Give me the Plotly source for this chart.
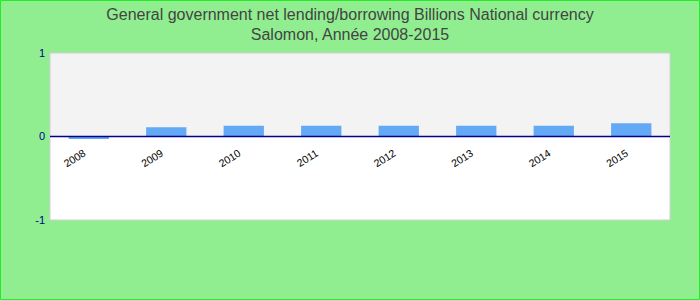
import plotly.graph_objects as go

years = ["2008", "2009", "2010", "2011", "2012", "2013", "2014", "2015"]
values = [-0.03, 0.11, 0.13, 0.13, 0.13, 0.13, 0.13, 0.16]
y_ticks = [-1, 0, 1]
y_tick_text = ["-1", "0", "1"]

W, H = 700, 300
ml, mr, mt, mb = 50, 30, 53, 80
pw, ph = W - ml - mr, H - mt - mb

fig = go.Figure()
fig.add_trace(go.Bar(x=years, y=values, marker_color="#63a9f5", width=0.52,
                     marker_line_width=0))

shapes = [
    dict(type="rect", xref="paper", yref="y", x0=0, x1=1, y0=0, y1=1,
         fillcolor="#f3f3f3", line_width=0, layer="below"),
    dict(type="rect", xref="paper", yref="paper", x0=0, x1=1, y0=0, y1=1,
         line=dict(color="#d0d0d0", width=1), fillcolor="rgba(0,0,0,0)"),
    dict(type="line", xref="paper", yref="y", x0=0, x1=1, y0=0, y1=0,
         line=dict(color="#00008b", width=1.5)),
    dict(type="rect", xref="paper", yref="paper",
         x0=(-ml + 0.5) / pw, x1=1 + (mr - 0.5) / pw,
         y0=(-mb + 0.5) / ph, y1=1 + (mt - 0.5) / ph,
         line=dict(color="#22ee22", width=1), fillcolor="rgba(0,0,0,0)"),
]

fig.update_layout(
    width=W, height=H,
    margin=dict(l=ml, r=mr, t=mt, b=mb),
    paper_bgcolor="#90ee90",
    plot_bgcolor="#ffffff",
    showlegend=False,
    shapes=shapes,
    title=dict(
        text="General government net lending/borrowing Billions National currency<br>Salomon, Année 2008-2015",
        x=0.5, xanchor="center", y=0.935, yanchor="middle",
        font=dict(family="Liberation Sans, Arial", size=16, color="#444444"),
    ),
    xaxis=dict(
        type="category", range=[-0.5, 7.5],
        showgrid=False, zeroline=False, showline=False, ticks="",
        anchor="free", position=0.5,
        tickangle=-32, ticklabelstandoff=8, ticklabelshift=-5,
        tickfont=dict(family="Liberation Sans, Arial", size=10.5, color="#000000"),
    ),
    yaxis=dict(
        range=[-1, 1], tickvals=y_ticks, ticktext=y_tick_text,
        showgrid=False, zeroline=False, showline=False, ticks="",
        ticklabelstandoff=4,
        tickfont=dict(family="Liberation Sans, Arial", size=11, color="#00008b"),
    ),
)

fig.write_html("out.html")
